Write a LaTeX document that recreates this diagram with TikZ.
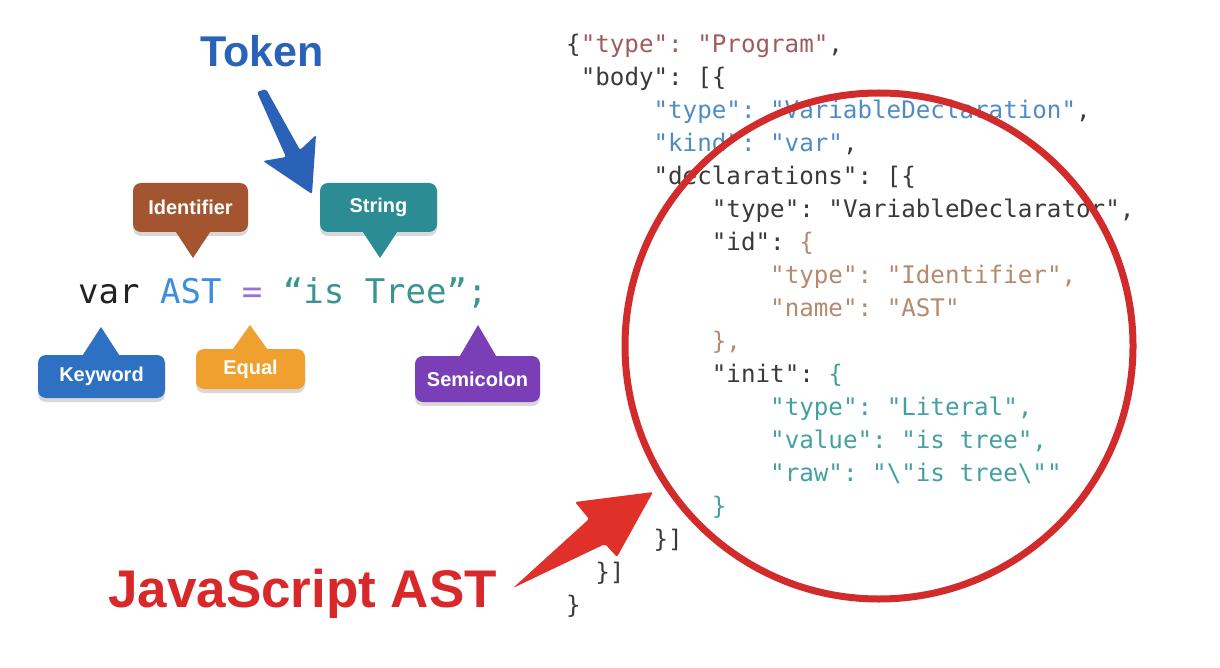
\documentclass[tikz,border=0pt]{standalone}
\usepackage{fontspec}
\setmainfont{Liberation Sans}
\setmonofont{DejaVu Sans Mono}
\usetikzlibrary{shadows}

\definecolor{tokenblue}{HTML}{2A62B8}
\definecolor{identbrown}{HTML}{A3552F}
\definecolor{stringteal}{HTML}{2B8C93}
\definecolor{kwblue}{HTML}{2E70C2}
\definecolor{eqorange}{HTML}{F0A02E}
\definecolor{semipurple}{HTML}{7A3EB6}
\definecolor{codeblack}{HTML}{222222}
\definecolor{astblue}{HTML}{3C8EDF}
\definecolor{eqpurple}{HTML}{9B72D2}
\definecolor{strteal}{HTML}{3A958F}
\definecolor{jsdark}{HTML}{3A3A3A}
\definecolor{jsrose}{HTML}{A05C5C}
\definecolor{jsblue}{HTML}{4F8CC6}
\definecolor{jstan}{HTML}{B58A6E}
\definecolor{jsteal}{HTML}{45A0A0}
\definecolor{astred}{HTML}{D9282A}
\definecolor{ringred}{HTML}{D22B2B}
\definecolor{arrowred}{HTML}{E0302A}

\begin{document}
\begin{tikzpicture}[x=1pt, y=-1pt,
  tag/.style={fill=#1, rounded corners=8pt, inner sep=0pt, text=white,
    font=\fontsize{20}{24}\selectfont\bfseries,
    drop shadow={shadow xshift=0pt, shadow yshift=-4pt, opacity=.3}},
  jsline/.style={anchor=mid west, inner sep=0pt, text=jsdark,
    font=\ttfamily\fontsize{24.2}{28}\selectfont}]
  \fill[white] (0,0) rectangle (1220,668);
  \useasboundingbox (0,0) rectangle (1220,668);

  \node[anchor=base, text=tokenblue, font=\fontsize{43}{50}\selectfont\bfseries] (token) at (262,67) {Token};
  \fill[tokenblue, rounded corners=2pt] (257,92) -- (266,89) -- (300,150) -- (316,135) -- (312,194) -- (263,161) -- (286,157) -- cycle;

  \node[tag=identbrown, minimum width=115pt, minimum height=49pt] (ident) at (190.5,207.5) {Identifier};
  \node[tag=stringteal, minimum width=117pt, minimum height=49pt] (str) at (378.5,207.5) {String};
  \node[tag=kwblue, minimum width=127pt, minimum height=43pt] (kw) at (101.5,376.5) {Keyword};
  \node[tag=eqorange, minimum width=109pt, minimum height=40pt] (eq) at (250.5,369) {Equal};
  \node[tag=semipurple, minimum width=125pt, minimum height=46pt] (semi) at (477.5,379) {Semicolon};
  \coordinate (identtip) at (193,258);
  \coordinate (strtip) at (380,258);
  \coordinate (kwtip) at (101,327);
  \coordinate (eqtip) at (250,325);
  \coordinate (semitip) at (478,325);
  \fill[identbrown] ([xshift=-17pt]identtip |- ident.south) -- (identtip) -- ([xshift=17pt]identtip |- ident.south) -- cycle;
  \fill[stringteal] ([xshift=-17pt]strtip |- str.south) -- (strtip) -- ([xshift=17pt]strtip |- str.south) -- cycle;
  \fill[kwblue] ([xshift=-18pt]kwtip |- kw.north) -- (kwtip) -- ([xshift=18pt]kwtip |- kw.north) -- cycle;
  \fill[eqorange] ([xshift=-17pt]eqtip |- eq.north) -- (eqtip) -- ([xshift=17pt]eqtip |- eq.north) -- cycle;
  \fill[semipurple] ([xshift=-18pt]semitip |- semi.north) -- (semitip) -- ([xshift=18pt]semitip |- semi.north) -- cycle;

  \node[anchor=base west, inner sep=0pt, font=\ttfamily\fontsize{34}{40}\selectfont] (code) at (78,303)
    {\textcolor{codeblack}{var} \textcolor{astblue}{AST} \textcolor{eqpurple}{=} \textcolor{strteal}{“is Tree”;}};

  \node[jsline] (j1) at (566,50) {\{\textcolor{jsrose}{"type": "Program"},};
  \node[jsline] (j2) at (580.6,83) {"body": [\{};
  \node[jsline] (j3) at (653.4,116) {\textcolor{jsblue}{"type": "VariableDeclaration"},};
  \node[jsline] (j4) at (653.4,149) {\textcolor{jsblue}{"kind": "var"},};
  \node[jsline] (j5) at (653.4,182) {"declarations": [\{};
  \node[jsline] (j6) at (711.7,215) {"type": "VariableDeclarator",};
  \node[jsline] (j7) at (711.7,248) {"id": \textcolor{jstan}{\{}};
  \node[jsline, text=jstan] (j8) at (770,281) {"type": "Identifier",};
  \node[jsline, text=jstan] (j9) at (770,314) {"name": "AST"};
  \node[jsline, text=jstan] (j10) at (711.7,347) {\},};
  \node[jsline] (j11) at (711.7,380) {"init": \textcolor{jsteal}{\{}};
  \node[jsline, text=jsteal] (j12) at (770,413) {"type": "Literal",};
  \node[jsline, text=jsteal] (j13) at (770,446) {"value": "is tree",};
  \node[jsline, text=jsteal] (j14) at (770,479) {"raw": "\textbackslash"is tree\textbackslash""};
  \node[jsline, text=jsteal] (j15) at (711.7,512) {\}};
  \node[jsline] (j16) at (653.4,545) {\}]};
  \node[jsline] (j17) at (595.1,578) {\}]};
  \node[jsline] (j18) at (566,611) {\}};

  \draw[ringred, line width=7pt] (879,346) ellipse [x radius=254, y radius=253];

  \node[anchor=base west, inner sep=0pt, text=astred, font=\fontsize{53}{60}\selectfont\bfseries] (jsast) at (108,607) {JavaScript AST};
  \fill[arrowred, rounded corners=2pt] (513,588) -- (589,519) -- (575,502) -- (653,492) -- (617,557) -- (605,544) -- cycle;
\end{tikzpicture}
\end{document}
